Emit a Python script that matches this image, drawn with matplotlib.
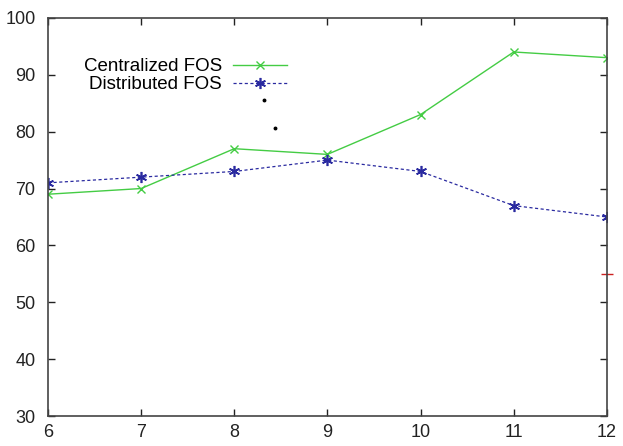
import matplotlib
matplotlib.use("Agg")
import matplotlib.pyplot as plt

x = [6, 7, 8, 9, 10, 11, 12]
centralized = [69, 70, 77, 76, 83, 94, 93]
distributed = [71, 72, 73, 75, 73, 67, 65]
xticks = [6, 7, 8, 9, 10, 11, 12]
yticks = [30, 40, 50, 60, 70, 80, 90, 100]
dots_x = [8.32, 8.44]
dots_y = [85.6, 80.6]

plt.rcParams['font.family'] = ['Liberation Sans', 'DejaVu Sans']
fig = plt.figure(figsize=(6.23, 4.46), dpi=100)
ax = fig.add_axes([0.077, 0.067, 0.897, 0.893])

ax.plot(x, centralized, color='#44cc44', lw=1.0, marker='x', ms=6, mew=1.0,
        label='Centralized FOS')
ax.plot(x, distributed, color='#2a2aa0', lw=0.9, ls=(0, (2.5, 2)), marker=(6, 2, 0), ms=8, mew=1.2,
        label='Distributed FOS')
ax.plot(dots_x, dots_y, ls='none', marker='o', ms=1.8, color='black')
ax.plot([12], [55], ls='none', marker='_', ms=8, mew=1.0, color='#cc2222', clip_on=False)

ax.set_xlim(6, 12)
ax.set_ylim(30, 100)
ax.set_xticks(xticks)
ax.set_yticks(yticks)
ax.tick_params(direction='in', top=True, right=True, length=5, width=1, labelsize=13,
               colors='#222222')
ax.tick_params(axis='x', pad=6)
ax.tick_params(axis='y', pad=9)
for s in ax.spines.values():
    s.set_color('#444444')
    s.set_linewidth(1.2)

leg = ax.legend(loc='upper right', bbox_to_anchor=(0.441, 0.918), frameon=False,
                markerfirst=False, fontsize=13.5, handlelength=2.9, handletextpad=0.55,
                labelspacing=0.05, borderaxespad=0, alignment='right')
for t in leg.get_texts():
    t.set_ha('right')

fig.savefig('out.png', dpi=100, facecolor='white')
